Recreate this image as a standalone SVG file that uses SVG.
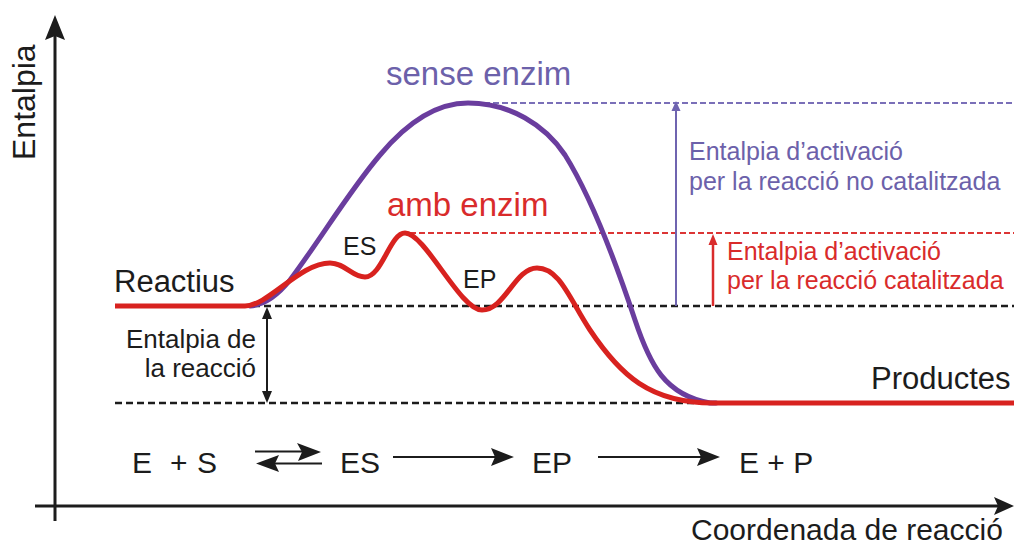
<svg xmlns="http://www.w3.org/2000/svg" width="1014" height="552" viewBox="0 0 1014 552">
<style>
text{font-family:"Liberation Sans",Arial,sans-serif;}
.blk{fill:#1c1c1c;}
.pur{fill:#6c61aa;}
.red{fill:#d92b2b;}
.dashK{stroke:#1c1c1c;stroke-width:2.5;stroke-dasharray:7 4;fill:none;}
.dashP{stroke:#7a6fb8;stroke-width:2;stroke-dasharray:6 3;fill:none;}
.dashR{stroke:#dc3535;stroke-width:2;stroke-dasharray:6 3;fill:none;}
.ax{stroke:#1c1c1c;stroke-width:3;fill:none;}
.thin{stroke:#1c1c1c;stroke-width:2;fill:none;}
</style>
<rect width="1014" height="552" fill="#ffffff"/>
<g id="axes">
<line class="ax" x1="55" y1="36" x2="55" y2="521"/>
<polygon points="55,15 45,40 55,36 65,40" fill="#1c1c1c"/>
<line class="ax" x1="35" y1="506" x2="998" y2="506"/>
<polygon points="1014,506 994,497 998,506 994,515" fill="#1c1c1c"/>
<text class="blk" font-size="32" transform="translate(35,160) rotate(-90)">Entalpia</text>
<text class="blk" font-size="30" x="691" y="540">Coordenada de reacció</text>
</g>
<g id="levels">
<line class="dashP" x1="466" y1="103" x2="1014" y2="103"/>
<line class="dashR" x1="410" y1="233" x2="1014" y2="233"/>
<line class="dashK" x1="253" y1="306" x2="1014" y2="306"/>
<line class="dashK" x1="115" y1="403" x2="712" y2="403"/>
</g>
<g id="connectors">
<line x1="676" y1="306" x2="676" y2="108" stroke="#6f64b0" stroke-width="2"/>
<polygon points="676,101 671.5,111 680.5,111" fill="#6f64b0"/>
<line x1="713" y1="306" x2="713" y2="242" stroke="#d92b2b" stroke-width="2.5"/>
<polygon points="713,234 708.5,245 717.5,245" fill="#d92b2b"/>
<line class="thin" x1="267" y1="315" x2="267" y2="394"/>
<polygon points="267,307 262,319 272,319" fill="#1c1c1c"/>
<polygon points="267,403 262,391 272,391" fill="#1c1c1c"/>
<line class="thin" x1="255" y1="451.5" x2="304" y2="451.5"/>
<polygon points="321,452 297,443 302,452 298,461" fill="#1c1c1c"/>
<line class="thin" x1="274" y1="463.5" x2="322" y2="463.5"/>
<polygon points="256,463.5 279,455 275,463.5 279,472" fill="#1c1c1c"/>
<line class="thin" x1="393" y1="457" x2="496" y2="457"/>
<polygon points="514,457 491,448 495,457 491,466" fill="#1c1c1c"/>
<line class="thin" x1="598" y1="457" x2="702" y2="457"/>
<polygon points="720,457 697,448 701,457 697,466" fill="#1c1c1c"/>
</g>
<g id="curve-sense-enzim">
<path d="M 250 306 C 265 305, 278 295, 290 280 C 320 240, 350 190, 380 155 C 405 125, 435 103, 468 103 C 510 103, 545 125, 565 155 C 590 195, 615 260, 635 320 C 650 365, 665 395, 710 403 L 716 403" fill="none" stroke="#6a3d9e" stroke-width="5" stroke-linecap="round"/>
</g>
<g id="curve-amb-enzim">
<path d="M 115 306 L 245 306 C 268 306, 300 263, 330 263 C 345 263, 352 277, 365 277 C 382 277, 390 233, 405 233 C 425 233, 460 310, 482 310 C 505 310, 515 268, 537 268 C 560 268, 570 300, 590 330 C 620 375, 650 403, 713 403 L 1014 403" fill="none" stroke="#d8221f" stroke-width="5" stroke-linejoin="round"/>
</g>
<g id="labels">
<text class="pur" font-size="33" x="386" y="85">sense enzim</text>
<text class="red" font-size="33" x="387" y="216">amb enzim</text>
<text class="blk" font-size="25" x="343" y="255">ES</text>
<text class="blk" font-size="25" x="463" y="288">EP</text>
<text class="blk" font-size="31" x="114" y="292">Reactius</text>
<text class="blk" font-size="31" x="871" y="389">Productes</text>
<text class="blk" font-size="26" text-anchor="end" x="256" y="348">Entalpia de</text>
<text class="blk" font-size="26" text-anchor="end" x="256" y="377">la reacció</text>
<text class="pur" font-size="25" x="689" y="160">Entalpia d’activació</text>
<text class="pur" font-size="25" x="689" y="190">per la reacció no catalitzada</text>
<text class="red" font-size="25" x="727" y="260">Entalpia d’activació</text>
<text class="red" font-size="25" x="727" y="289">per la reacció catalitzada</text>
</g>
<g id="equation" class="blk" font-size="30">
<text x="132" y="473"><tspan x="132">E</tspan><tspan x="170">+</tspan><tspan x="197">S</tspan></text>
<text x="340" y="473">ES</text>
<text x="532" y="473">EP</text>
<text x="739" y="473">E + P</text>
</g>
</svg>
